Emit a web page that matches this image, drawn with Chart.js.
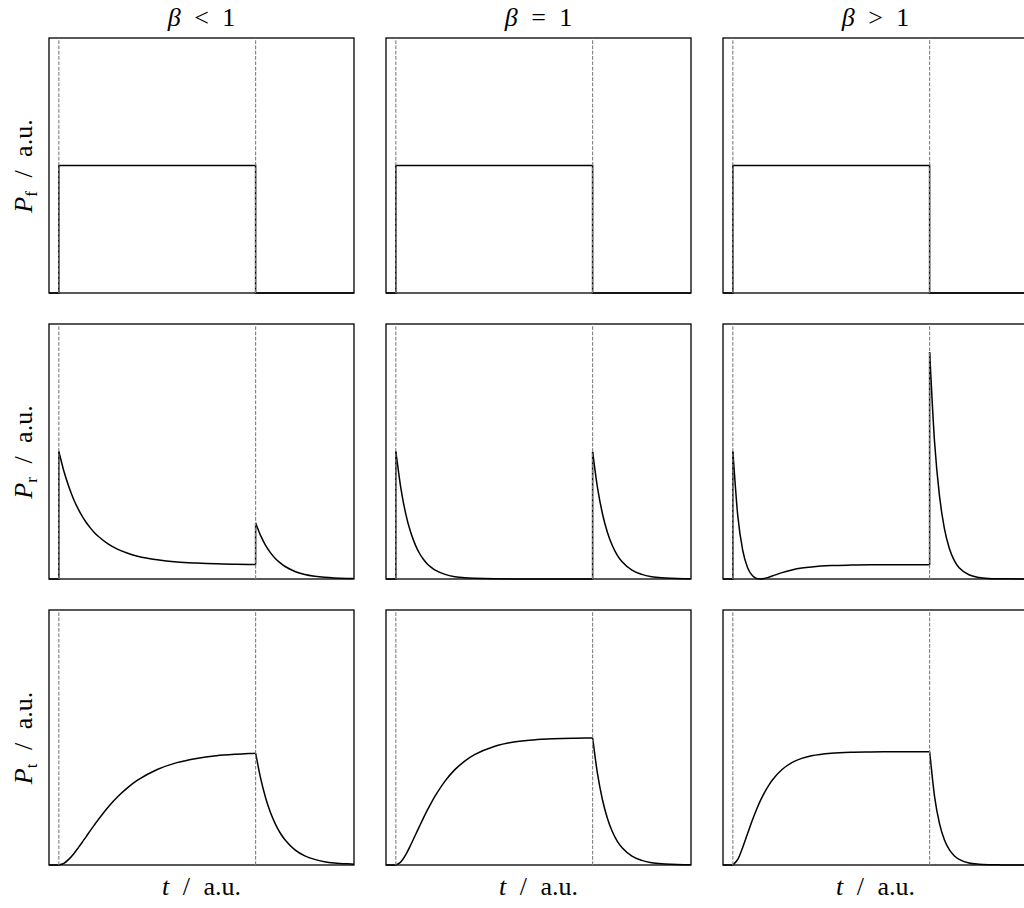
<!DOCTYPE html>
<html>
<head>
<meta charset="utf-8">
<script src="https://cdn.jsdelivr.net/npm/chart.js@4.4.0/dist/chart.umd.min.js"></script>
<style>
  html, body { margin: 0; padding: 0; background: #fff; overflow: hidden; }
  body { width: 1024px; height: 908px; position: relative; }
  canvas { position: absolute; }
  .lbl { position: absolute; font-family: 'Liberation Serif', 'DejaVu Serif', serif; font-size: 26px; color: #000;
         white-space: nowrap; transform: translate(-50%, -50%); word-spacing: 7px; }
  .ylbl { transform: translate(-50%, -50%) rotate(-90deg); }
  sub { font-size: 17px; font-style: normal; vertical-align: -5px; line-height: 0; }
</style>
</head>
<body>
<script>
// time axis samples (a.u.) - pulse on between 0 and 10
const tOn = [0, 0.25, 0.5, 0.75, 1, 1.2, 1.4, 1.6, 1.8, 2, 2.5, 3, 3.5, 4, 5, 6, 7, 8, 9, 10];
const tOff = [10, 10.25, 10.5, 10.75, 11, 11.25, 11.5, 12, 12.5, 13, 13.5, 14, 15];
const markers = [0, 10];

// forward power
const pfTimes = [-0.5, 0, 0, 10, 10, 15];
const pfValues = [0, 0, 1, 1, 0, 0];

// reflected power, beta < 1 / = 1 / > 1
const prOnLow = [1.000, 0.849, 0.727, 0.626, 0.544, 0.489, 0.441, 0.401, 0.365, 0.335, 0.275, 0.232, 0.202, 0.179, 0.151, 0.134, 0.125, 0.119, 0.116, 0.114];
const prOffLow = [0.439, 0.342, 0.266, 0.207, 0.161, 0.126, 0.098, 0.059, 0.036, 0.022, 0.013, 0.008, 0.003];
const prOnCrit = [1.000, 0.717, 0.513, 0.368, 0.264, 0.202, 0.155, 0.118, 0.091, 0.069, 0.036, 0.018, 0.009, 0.005, 0.001, 0, 0, 0, 0, 0];
const prOffCrit = [0.997, 0.714, 0.512, 0.367, 0.263, 0.188, 0.135, 0.069, 0.036, 0.018, 0.009, 0.005, 0.001];
const prOnHigh = [1.000, 0.497, 0.226, 0.088, 0.025, 0.005, 0.000, 0.004, 0.013, 0.023, 0.050, 0.071, 0.086, 0.095, 0.105, 0.109, 0.111, 0.111, 0.111, 0.111];
const prOffHigh = [1.778, 1.078, 0.654, 0.397, 0.241, 0.146, 0.089, 0.033, 0.012, 0.004, 0.002, 0.001, 0];

// transmitted power
const ptOnLow = [0, 0.012, 0.044, 0.087, 0.138, 0.181, 0.225, 0.270, 0.313, 0.355, 0.453, 0.537, 0.607, 0.665, 0.749, 0.803, 0.836, 0.857, 0.869, 0.877];
const ptOffLow = [0.877, 0.683, 0.532, 0.414, 0.323, 0.251, 0.196, 0.119, 0.072, 0.044, 0.026, 0.016, 0.006];
const ptOnCrit = [0, 0.024, 0.080, 0.155, 0.237, 0.303, 0.368, 0.430, 0.488, 0.542, 0.658, 0.748, 0.815, 0.866, 0.930, 0.964, 0.981, 0.990, 0.995, 0.997];
const ptOffCrit = [0.997, 0.714, 0.512, 0.367, 0.263, 0.188, 0.135, 0.069, 0.036, 0.018, 0.009, 0.005, 0.001];
const ptOnHigh = [0, 0.044, 0.138, 0.247, 0.355, 0.434, 0.505, 0.566, 0.619, 0.665, 0.749, 0.803, 0.836, 0.857, 0.877, 0.885, 0.887, 0.888, 0.889, 0.889];
const ptOffHigh = [0.889, 0.539, 0.327, 0.198, 0.120, 0.073, 0.044, 0.016, 0.006, 0.002, 0.001, 0, 0];

const colTitles = ['<i>β</i> &lt; 1', '<i>β</i> = 1', '<i>β</i> &gt; 1'];
const rowLabels = ['<i>P</i><sub>f</sub> / a.u.', '<i>P</i><sub>r</sub> / a.u.', '<i>P</i><sub>t</sub> / a.u.'];

const colLeft = [49, 386, 723];
const rowTop = [38, 324, 610];
const boxW = 305, boxH = 255, pad = 2;

const xy = (ts, vs) => ts.map((t, i) => ({ x: t, y: vs[i] }));

const boxPlugin = {
  id: 'box',
  beforeDatasetsDraw(chart) {
    const a = chart.chartArea, ctx = chart.ctx;
    ctx.save();
    ctx.strokeStyle = '#000';
    ctx.lineWidth = 1.3;
    ctx.strokeRect(a.left, a.top, a.right - a.left, a.bottom - a.top);
    ctx.restore();
  }
};

function markerSets() {
  return markers.map(m => ({
    data: [{ x: m, y: 0 }, { x: m, y: 2 }],
    borderColor: '#808080', borderWidth: 1.1, borderDash: [3.7, 1.6], tension: 0
  }));
}

function curveSets(on, off) {
  const line = { borderColor: '#000', borderWidth: 1.5 };
  return [
    Object.assign({ data: [{ x: -0.5, y: 0 }, { x: tOn[0], y: 0 }, { x: tOn[0], y: on[0] }], tension: 0 }, line),
    Object.assign({ data: xy(tOn, on), cubicInterpolationMode: 'monotone' }, line),
    Object.assign({ data: [{ x: tOff[0], y: on[on.length - 1] }, { x: tOff[0], y: off[0] }], tension: 0 }, line),
    Object.assign({ data: xy(tOff, off), cubicInterpolationMode: 'monotone' }, line)
  ];
}

const panels = [
  [null, null, null],
  [[prOnLow, prOffLow], [prOnCrit, prOffCrit], [prOnHigh, prOffHigh]],
  [[ptOnLow, ptOffLow], [ptOnCrit, ptOffCrit], [ptOnHigh, ptOffHigh]]
];

panels.forEach((row, r) => {
  row.forEach((series, c) => {
    const cv = document.createElement('canvas');
    cv.width = boxW + 2 * pad;
    cv.height = boxH + 2 * pad;
    cv.style.left = (colLeft[c] - pad) + 'px';
    cv.style.top = (rowTop[r] - pad) + 'px';
    document.body.appendChild(cv);

    let datasets = markerSets();
    if (series) {
      datasets = datasets.concat(curveSets(series[0], series[1]));
    } else {
      datasets.push({ data: xy(pfTimes, pfValues), borderColor: '#000', borderWidth: 1.5, tension: 0 });
    }
    datasets.forEach(d => { d.pointRadius = 0; d.fill = false; d.clip = false; });

    new Chart(cv, {
      type: 'line',
      data: { datasets },
      options: {
        responsive: false,
        animation: false,
        layout: { padding: pad },
        plugins: { legend: { display: false }, tooltip: { enabled: false } },
        scales: {
          x: { type: 'linear', min: -0.5, max: 15, display: false },
          y: { min: 0, max: 2, display: false }
        }
      },
      plugins: [boxPlugin]
    });
  });
});

// text labels
colTitles.forEach((txt, c) => {
  const d = document.createElement('div');
  d.className = 'lbl';
  d.innerHTML = txt;
  d.style.left = (colLeft[c] + boxW / 2) + 'px';
  d.style.top = '18px';
  document.body.appendChild(d);

  const xl = document.createElement('div');
  xl.className = 'lbl';
  xl.innerHTML = '<i>t</i> / a.u.';
  xl.style.left = (colLeft[c] + boxW / 2) + 'px';
  xl.style.top = '887px';
  document.body.appendChild(xl);
});
rowLabels.forEach((txt, r) => {
  const d = document.createElement('div');
  d.className = 'lbl ylbl';
  d.innerHTML = txt;
  d.style.left = '24px';
  d.style.top = (rowTop[r] + boxH / 2) + 'px';
  document.body.appendChild(d);
});
</script>
</body>
</html>
